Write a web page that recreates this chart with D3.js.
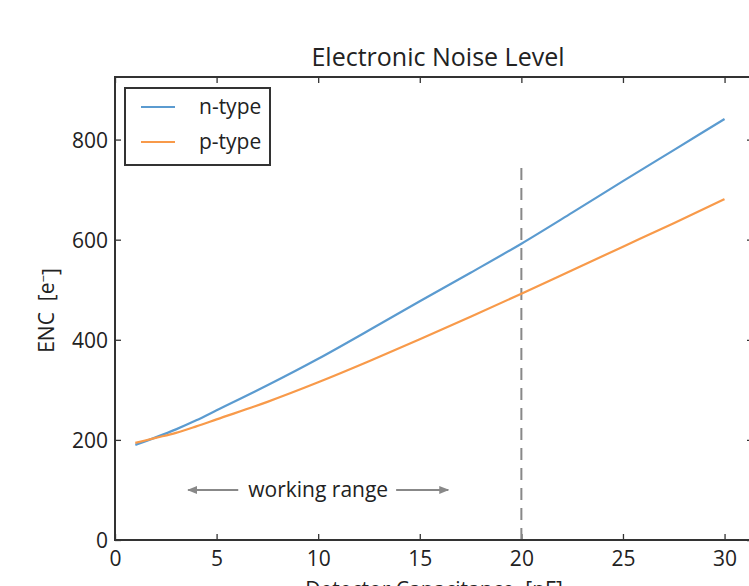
<!DOCTYPE html>
<html>
<head>
<meta charset="utf-8">
<script src="https://cdn.jsdelivr.net/npm/d3@7"></script>
<style>
  html, body { margin: 0; padding: 0; background: #fff; overflow: hidden; }
  svg { display: block; font-family: "Open Sans", "DejaVu Sans", sans-serif; }
</style>
</head>
<body>
<svg id="chart" width="749" height="586"></svg>
<script>
// Detector capacitance [pF] at which the noise was evaluated
const capacitance = [1, 2, 3, 4, 5, 7.5, 10, 12.5, 15, 17.5, 20, 22.5, 25, 27.5, 30];
// Equivalent noise charge [e-] per readout type
const nType = [190, 205, 221, 239, 259, 309, 362, 419, 477, 534, 592, 654, 717, 779, 841];
const pType = [194, 204, 214, 227, 241, 276, 315, 357, 401, 446, 492, 539, 586, 633, 681];
const seriesNames = ["n-type", "p-type"];
const seriesColors = ["#5b9bd0", "#f89a4a"];
const xTicks = [0, 5, 10, 15, 20, 25, 30];
const yTicks = [0, 200, 400, 600, 800];
const xDomain = [0, 31.4];
const yDomain = [0, 925];
const limitCap = 20;       // upper end of the usable capacitance
const limitTop = 750;      // height of the limit marker
const rangeFrom = 3.6, rangeTo = 16.4, rangeLevel = 100;

const svg = d3.select("#chart");
const margin = { left: 115, top: 77, right: 753, bottom: 540 };

const x = d3.scaleLinear().domain(xDomain).range([margin.left, margin.right]);
const y = d3.scaleLinear().domain(yDomain).range([margin.bottom, margin.top]);

const axisColor = "#333";
const tickFont = "21px";

// tick marks on all four sides, pointing inward
const gx = svg.append("g").attr("transform", `translate(0,${margin.bottom})`)
  .call(d3.axisBottom(x).tickValues(xTicks).tickSizeInner(-6).tickSizeOuter(0).tickPadding(11));
const gxTop = svg.append("g").attr("transform", `translate(0,${margin.top})`)
  .call(d3.axisTop(x).tickValues(xTicks).tickSizeInner(-6).tickSizeOuter(0).tickFormat(""));
const gy = svg.append("g").attr("transform", `translate(${margin.left},0)`)
  .call(d3.axisLeft(y).tickValues(yTicks).tickSizeInner(-6).tickSizeOuter(0).tickPadding(7));
const gyRight = svg.append("g").attr("transform", `translate(${margin.right},0)`)
  .call(d3.axisRight(y).tickValues(yTicks).tickSizeInner(-6).tickSizeOuter(0).tickFormat(""));

[gx, gxTop, gy, gyRight].forEach(g => {
  g.select(".domain").remove();
  g.selectAll(".tick line").attr("stroke", axisColor).attr("stroke-width", 1.3);
  g.selectAll(".tick text").attr("fill", "#222").style("font-size", tickFont)
    .style("font-family", "'Open Sans', sans-serif");
});
gy.selectAll(".tick text").attr("dy", "0.36em");
gx.selectAll(".tick text").attr("dy", "0.72em");

// limit marker at the end of the usable range
svg.append("line")
  .attr("x1", x(limitCap)).attr("x2", x(limitCap))
  .attr("y1", y(0)).attr("y2", y(limitTop))
  .attr("stroke", "#888").attr("stroke-width", 2)
  .attr("stroke-dasharray", "12,8");

// noise curves
const line = d3.line().x((d, i) => x(capacitance[i])).y(d => y(d)).curve(d3.curveMonotoneX);
[nType, pType].forEach((vals, k) => {
  svg.append("path").datum(vals)
    .attr("d", line)
    .attr("fill", "none")
    .attr("stroke", seriesColors[k])
    .attr("stroke-width", 2.2);
});

// frame
svg.append("rect")
  .attr("x", margin.left).attr("y", margin.top)
  .attr("width", margin.right - margin.left).attr("height", margin.bottom - margin.top)
  .attr("fill", "none").attr("stroke", axisColor).attr("stroke-width", 2);

// working range annotation
const defs = svg.append("defs");
defs.append("marker").attr("id", "arrowHead")
  .attr("viewBox", "0 0 10 10").attr("refX", 9).attr("refY", 5)
  .attr("markerWidth", 10).attr("markerHeight", 10)
  .attr("markerUnits", "userSpaceOnUse")
  .attr("orient", "auto")
  .append("path").attr("d", "M0,1 L10,5 L0,9 Z").attr("fill", "#888");

const midCap = (rangeFrom + rangeTo) / 2;
const rangeLabel = svg.append("text")
  .attr("x", x(midCap)).attr("y", y(rangeLevel))
  .attr("text-anchor", "middle").attr("dy", "0.32em")
  .attr("fill", "#222").style("font-size", "21px")
  .text("working range");
const labelBox = rangeLabel.node().getBBox();
svg.append("line")
  .attr("x1", labelBox.x - 10).attr("x2", x(rangeFrom))
  .attr("y1", y(rangeLevel)).attr("y2", y(rangeLevel))
  .attr("stroke", "#888").attr("stroke-width", 2)
  .attr("marker-end", "url(#arrowHead)");
svg.append("line")
  .attr("x1", labelBox.x + labelBox.width + 8).attr("x2", x(rangeTo))
  .attr("y1", y(rangeLevel)).attr("y2", y(rangeLevel))
  .attr("stroke", "#888").attr("stroke-width", 2)
  .attr("marker-end", "url(#arrowHead)");

// legend
const legend = svg.append("g");
legend.append("rect")
  .attr("x", 125).attr("y", 88).attr("width", 145).attr("height", 77)
  .attr("fill", "#fff").attr("stroke", axisColor).attr("stroke-width", 2);
seriesNames.forEach((name, k) => {
  const ly = 107 + k * 35;
  legend.append("line")
    .attr("x1", 141).attr("x2", 175).attr("y1", ly).attr("y2", ly)
    .attr("stroke", seriesColors[k]).attr("stroke-width", 2.2);
  legend.append("text")
    .attr("x", 199).attr("y", ly).attr("dy", "0.32em")
    .attr("fill", "#222").style("font-size", "21px")
    .text(name);
});

// titles
svg.append("text")
  .attr("x", (margin.left + margin.right) / 2 + 4).attr("y", 66)
  .attr("text-anchor", "middle").attr("fill", "#222")
  .style("font-size", "25px")
  .text("Electronic Noise Level");

svg.append("text")
  .attr("x", (margin.left + margin.right) / 2).attr("y", 597)
  .attr("text-anchor", "middle").attr("fill", "#222")
  .style("font-size", "21px")
  .style("white-space", "pre")
  .text("Detector Capacitance  [pF]");

const yLabel = svg.append("text")
  .attr("transform", `translate(54,${(margin.top + margin.bottom) / 2 + 2}) rotate(-90)`)
  .attr("text-anchor", "middle").attr("fill", "#222")
  .style("font-size", "21px")
  .style("white-space", "pre");
yLabel.append("tspan").text("ENC  [e");
yLabel.append("tspan").attr("dy", "-0.5em").style("font-size", "13px").text("−");
yLabel.append("tspan").attr("dy", "0.5em").text("]");
</script>
</body>
</html>
